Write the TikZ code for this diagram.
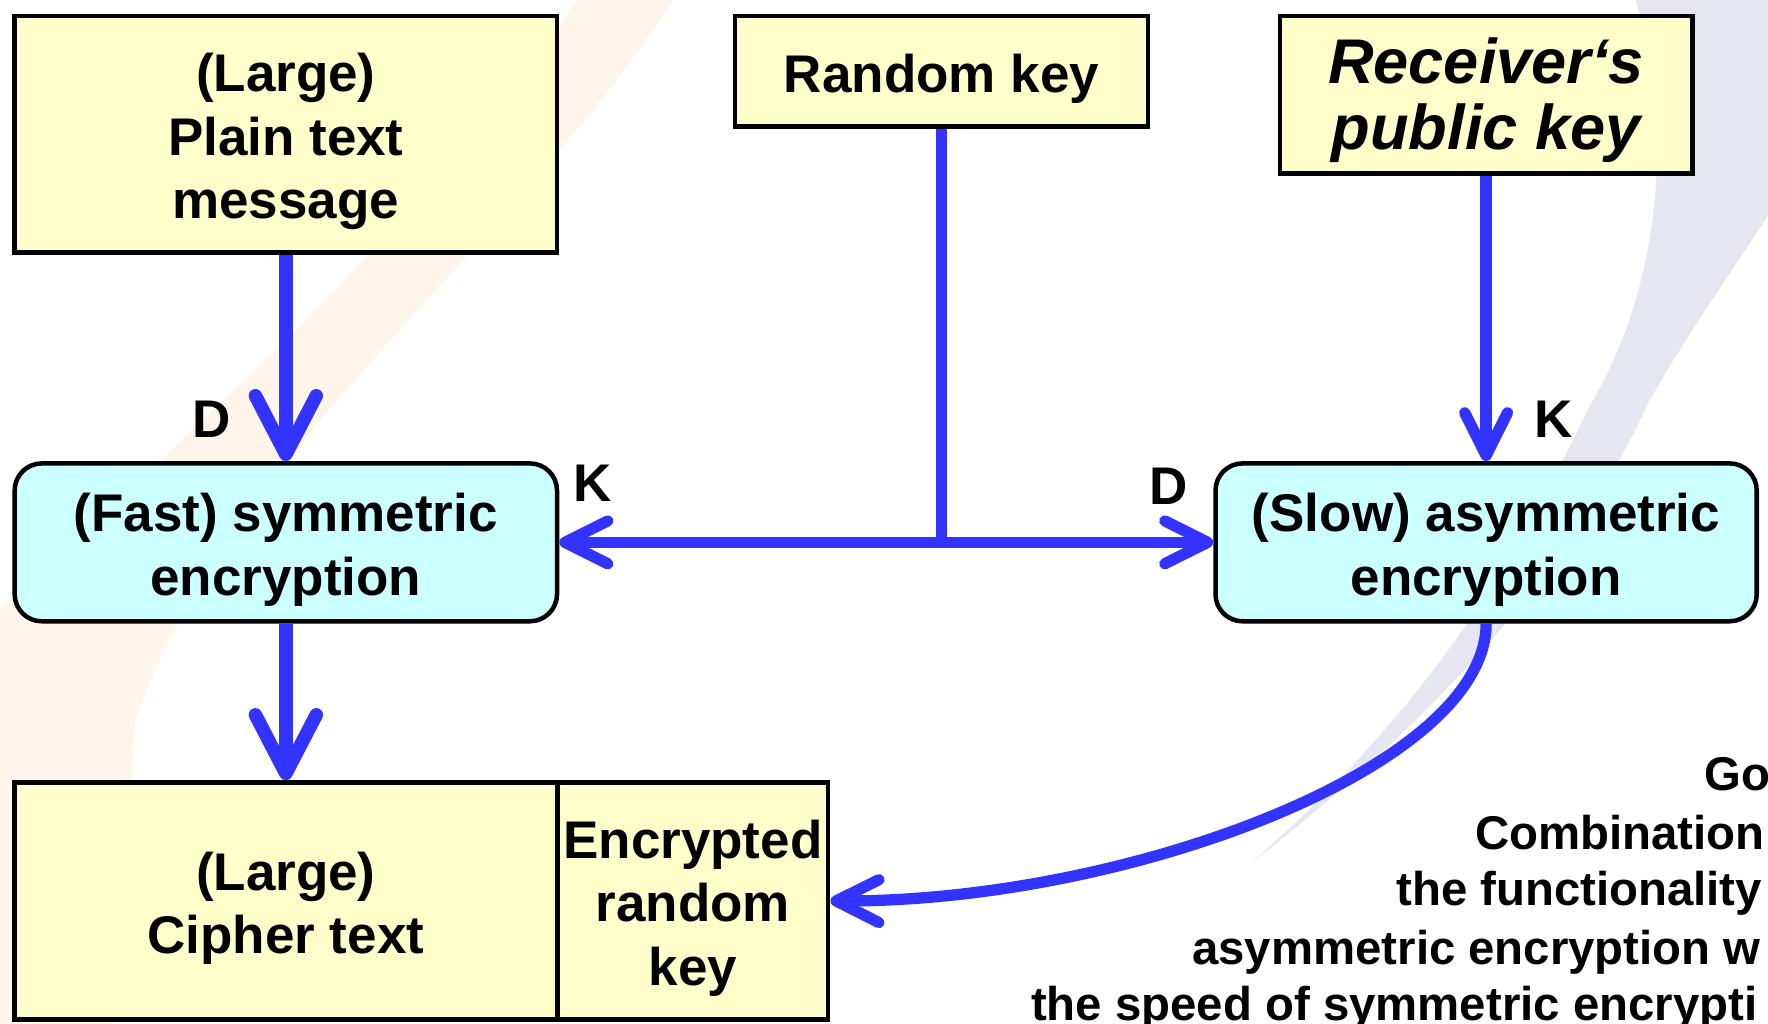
\documentclass[tikz,border=0pt]{standalone}
\usepackage{fontspec}
\setmainfont{Liberation Sans}
\usetikzlibrary{arrows.meta}
\definecolor{arrowblue}{HTML}{3333FF}
\definecolor{boxyellow}{HTML}{FFFFCC}
\definecolor{boxcyan}{HTML}{CCFFFF}
\definecolor{swooshgray}{HTML}{E6E6F0}
\definecolor{swooshorange}{HTML}{FFF5EA}
\begin{document}
\begin{tikzpicture}[x=0.5pt,y=-0.5pt,
  box/.style={draw=black, line width=2pt, fill=boxyellow, inner sep=0pt},
  encbox/.style={box, fill=boxcyan, rounded corners=12pt},
  boxtext/.style={inner sep=0pt, align=center, font=\fontsize{23.5}{28.3}\selectfont\bfseries},
  lbl/.style={inner sep=0pt, font=\fontsize{23.5}{28.3}\selectfont\bfseries},
  goal/.style={inner sep=0pt, anchor=base west, font=\fontsize{21}{25}\selectfont\bfseries},
  link/.style={draw=arrowblue, line width=5pt},
  bigarrow/.style={draw=arrowblue, line width=6pt, -{Straight Barb[length=26pt,width=27pt,round]}},
  smallarrow/.style={draw=arrowblue, line width=5pt, -{Straight Barb[length=19pt,width=19pt,round]}}
]
\useasboundingbox (0,0) rectangle (1568,908);
\clip (0,0) rectangle (1568,908);
\fill[white] (0,0) rectangle (1568,908);

% background swooshes
\fill[swooshorange] (600,-5) .. controls (450,230) and (200,400) .. (120,640)
   -- (100,908) -- (0,908) -- (0,540) .. controls (150,400) and (380,200) .. (515,-5) -- cycle;
\fill[swooshgray] (1449,-5) .. controls (1485,110) and (1475,250) .. (1410,360)
   .. controls (1370,440) and (1300,600) .. (1110,765)
   .. controls (1310,610) and (1410,470) .. (1463,355)
   .. controls (1500,290) and (1540,235) .. (1575,180) -- (1575,-5) -- cycle;

% boxes
\node[box, minimum width=240.5pt, minimum height=105pt] (A) at (253.5,119) {};
\node[boxtext] (At) at (253.5,125.5) {(Large)\\Plain text\\message};
\node[box, minimum width=183pt, minimum height=49pt] (R) at (835,63) {};
\node[boxtext] (Rt) at (835,69.5) {Random key};
\node[box, minimum width=183pt, minimum height=70pt] (P) at (1318,84) {};
\node[boxtext, font=\fontsize{28}{29}\selectfont\bfseries\itshape] (Pt) at (1318,89) {Receiver‘s\\public key};
\node[encbox, minimum width=240.5pt, minimum height=70pt] (S) at (253.5,481) {};
\node[boxtext] (St) at (253.5,487.5) {(Fast) symmetric\\encryption};
\node[encbox, minimum width=240pt, minimum height=70pt] (AS) at (1318,481) {};
\node[boxtext] (ASt) at (1318,487.5) {(Slow) asymmetric\\encryption};
\node[box, minimum width=240.5pt, minimum height=105pt] (C) at (253.5,799) {};
\node[boxtext] (Ct) at (253.5,805.5) {(Large)\\Cipher text};
\node[box, minimum width=120pt, minimum height=105pt] (E) at (614.5,799) {};
\node[boxtext] (Et) at (614.5,805.5) {Encrypted\\random\\key};

% labels
\node[lbl] (d1) at (188,372) {D};
\node[lbl] (k1) at (526,429) {K};
\node[lbl] (d2) at (1036,431) {D};
\node[lbl] (k2) at (1378,372) {K};

% connectors
\coordinate (J) at (835,481);
\draw[bigarrow] (A) -- (S);
\draw[bigarrow] (S) -- (C);
\draw[link] (R) -- (J);
\draw[smallarrow] (J) -- (S);
\draw[smallarrow] (J) -- (AS);
\draw[smallarrow] (P) -- (AS);
\draw[smallarrow] (AS.south) .. controls (1318,680) and (1000,800) .. (E.east);

% goal text
\node[goal] (g1) at (1511,701) {Go};
\node[goal] (g2) at (1308,753) {Combination};
\node[goal] (g3) at (1238,803) {the functionality};
\node[goal] (g4) at (1057,855) {asymmetric encryption w};
\node[goal] (g5) at (914,905) {the speed of symmetric encrypti};
\end{tikzpicture}
\end{document}
